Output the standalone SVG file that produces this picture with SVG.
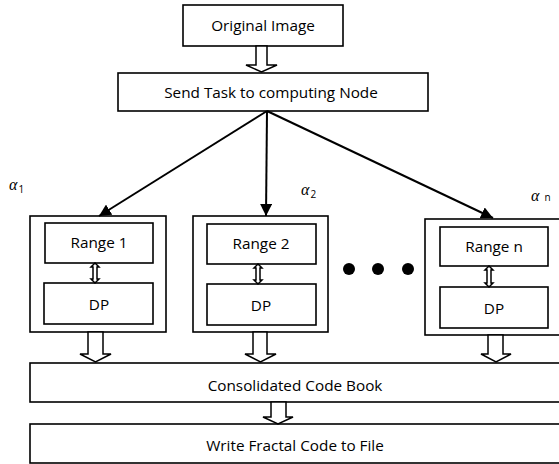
<svg xmlns="http://www.w3.org/2000/svg" width="559" height="464" viewBox="0 0 559 464">
<defs>
<style>
.box{fill:#fff;stroke:#000;stroke-width:1.6}
.hol{fill:#fff;stroke:#000;stroke-width:1.5;stroke-linejoin:miter}
.t{font-family:"Open Sans","Liberation Sans",sans-serif;font-size:15.3px;fill:#000;text-anchor:middle}
.a{font-family:"Liberation Serif","DejaVu Serif",serif;font-style:italic;font-size:16px;fill:#000}
.s{font-family:"Open Sans","Liberation Sans",sans-serif;font-size:10px;fill:#000;font-style:normal}
.ln{stroke:#000;stroke-width:2;fill:none}
</style>
<marker id="ah" viewBox="0 0 10 10" refX="10" refY="5" markerWidth="6" markerHeight="6" orient="auto" markerUnits="strokeWidth">
<path d="M0,0 L10,5 L0,10 z" fill="#000"/>
</marker>
</defs>
<rect width="559" height="464" fill="#fff"/>

<g id="original">
<rect class="box" x="183" y="5" width="160" height="41"/>
<text class="t" x="263" y="31">Original Image</text>
</g>

<g id="send">
<rect class="box" x="118" y="73" width="310" height="38"/>
<text class="t" x="271" y="98">Send Task to computing Node</text>
</g>

<g id="node1">
<rect class="box" x="30" y="216" width="136" height="116"/>
<rect class="box" x="45" y="223" width="108" height="40"/>
<text class="t" x="99" y="248">Range 1</text>
<rect class="box" x="44" y="283" width="109" height="41"/>
<text class="t" x="99" y="310">DP</text>
<path class="hol" d="M95,263 L99,267 L97,267 L97,279 L99,279 L95,283 L91,279 L93,279 L93,267 L91,267 Z"/>
</g>

<g id="node2">
<rect class="box" x="193" y="216" width="135" height="116"/>
<rect class="box" x="207" y="224" width="109" height="40"/>
<text class="t" x="261" y="249">Range 2</text>
<rect class="box" x="207" y="284" width="109" height="41"/>
<text class="t" x="261" y="311">DP</text>
<path class="hol" d="M258,264 L262,268 L260,268 L260,280 L262,280 L258,284 L254,280 L256,280 L256,268 L254,268 Z"/>
</g>

<g id="noden">
<rect class="box" x="425" y="219" width="140" height="116"/>
<rect class="box" x="440" y="227" width="108" height="39"/>
<text class="t" x="494" y="252">Range n</text>
<rect class="box" x="440" y="287" width="108" height="41"/>
<text class="t" x="494" y="314">DP</text>
<path class="hol" d="M489,266 L493,270 L491,270 L491,283 L493,283 L489,287 L485,283 L487,283 L487,270 L485,270 Z"/>
</g>

<g id="dots">
<circle cx="349" cy="269" r="6"/>
<circle cx="378" cy="269" r="6"/>
<circle cx="408" cy="269" r="6"/>
</g>

<g id="consolidated">
<rect class="box" x="30" y="363" width="535" height="39"/>
<text class="t" x="295" y="391">Consolidated Code Book</text>
</g>

<g id="write">
<rect class="box" x="30" y="424" width="535" height="39"/>
<text class="t" x="295" y="451">Write Fractal Code to File</text>
</g>

<g id="labels">
<text class="a" x="9" y="190">α<tspan class="s" dx="1" dy="3">1</tspan></text>
<text class="a" x="301" y="195">α<tspan class="s" dx="1" dy="3">2</tspan></text>
<text class="a" x="531" y="201">α<tspan class="s" dx="5" dy="0">n</tspan></text>
</g>

<g id="connectors">
<path class="hol" d="M256,46 L267,46 L267,65 L277,65 L261.5,72 L246,65 L256,65 Z"/>
<line class="ln" x1="267" y1="111" x2="99" y2="216" marker-end="url(#ah)"/>
<line class="ln" x1="267" y1="111" x2="266" y2="216" marker-end="url(#ah)"/>
<line class="ln" x1="267" y1="111" x2="493" y2="218" marker-end="url(#ah)"/>
<path class="hol" d="M88,332 L103,332 L103,354 L111,354 L95.5,362 L80,354 L88,354 Z"/>
<path class="hol" d="M253,332 L267,332 L267,354 L276,354 L260.5,362 L245,354 L253,354 Z"/>
<path class="hol" d="M488,335 L503,335 L503,354 L511,354 L496,362 L481,354 L488,354 Z"/>
<path class="hol" d="M271,402 L286,402 L286,417 L293,417 L278,424 L263,417 L271,417 Z"/>
</g>
</svg>
